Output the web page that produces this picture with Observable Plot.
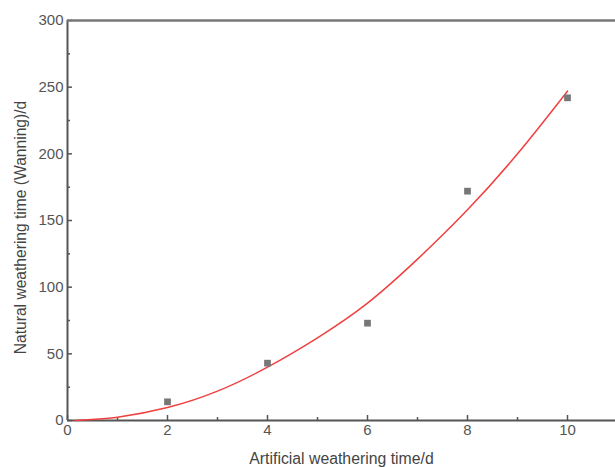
<!DOCTYPE html>
<html><head><meta charset="utf-8">
<script src="https://cdn.jsdelivr.net/npm/d3@7"></script>
<script src="https://cdn.jsdelivr.net/npm/@observablehq/plot@0.6"></script>
<style>body{margin:0;background:#fff;} svg{display:block;}</style>
</head><body><div id="chart"></div>
<script>
const artificialDays = [2, 4, 6, 8, 10];
const naturalDays = [14, 43, 73, 172, 242];
const fitX = [0.15, 1, 2, 3, 4, 5, 6, 7, 8, 9, 10];
const fitY = [0, 2.5, 9.7, 22, 40, 62, 88, 121, 158, 200, 247];
const xMajor = [0, 2, 4, 6, 8, 10];
const xMinor = [1, 3, 5, 7, 9];
const yMajor = [0, 50, 100, 150, 200, 250, 300];
const yMinor = [25, 75, 125, 175, 225, 275];
const xTitle = "Artificial weathering time/d";
const yTitle = "Natural weathering time (Wanning)/d";

const pts = artificialDays.map((x, i) => ({x, y: naturalDays[i]}));
const fit = fitX.map((x, i) => ({x, y: fitY[i]}));
const axisColor = "#555";
const font = "Liberation Sans, Arial, sans-serif";

const chart = Plot.plot({
  width: 615, height: 467,
  marginLeft: 67, marginRight: 0, marginTop: 20, marginBottom: 47,
  style: {fontFamily: font, fontSize: "14px", color: axisColor, background: "#fff"},
  x: {domain: [0, 10.96]},
  y: {domain: [0, 300]},
  marks: [
    Plot.axisX(xMajor, {tickSize: -5, tickPadding: 9, stroke: axisColor, strokeWidth: 1.5, fontSize: 15, fill: axisColor, label: null}),
    Plot.axisX(xMinor, {tickSize: -3, text: null, stroke: axisColor, strokeWidth: 1.5, label: null}),
    Plot.axisY(yMajor, {tickSize: -5, tickPadding: 9, stroke: axisColor, strokeWidth: 1.5, fontSize: 15, fill: axisColor, label: null}),
    Plot.axisY(yMinor, {tickSize: -3, text: null, stroke: axisColor, strokeWidth: 1.5, label: null}),
    Plot.text([xTitle], {text: d => d, frameAnchor: "bottom", dy: 43, fontSize: 15.8, fill: "#444", lineAnchor: "bottom", textAnchor: "middle"}),
    Plot.text([yTitle], {text: d => d, frameAnchor: "left", dx: -47, dy: 7, rotate: -90, fontSize: 15.6, fill: "#444", lineAnchor: "middle", textAnchor: "middle"}),
    Plot.ruleY([0], {stroke: axisColor, strokeWidth: 2}),
    Plot.ruleX([0], {stroke: axisColor, strokeWidth: 2}),
    Plot.ruleY([300], {stroke: "#777", strokeWidth: 2.5}),
    Plot.line(fit, {x: "x", y: "y", stroke: "#f04040", strokeWidth: 1.5, curve: "natural"}),
    Plot.dot(pts, {x: "x", y: "y", symbol: "square", r: 3.8, fill: "#777", stroke: "none"})
  ]
});
document.getElementById("chart").appendChild(chart);
</script>
</body></html>
